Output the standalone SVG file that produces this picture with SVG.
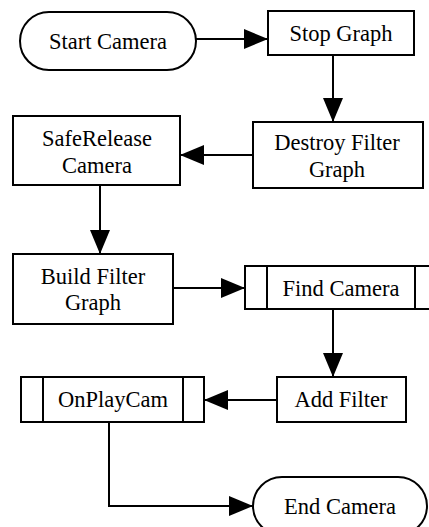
<svg xmlns="http://www.w3.org/2000/svg" width="429" height="527" viewBox="0 0 429 527">
<defs>
<style>
.box{fill:#fff;stroke:#000;stroke-width:2}
.ln{fill:none;stroke:#000;stroke-width:2}
.t{font-size:22.5px;fill:#000;text-anchor:middle}
</style>
<marker id="ah" markerUnits="userSpaceOnUse" markerWidth="24" markerHeight="20" refX="24" refY="10" orient="auto">
<path d="M0,0 L24,10 L0,20 Z" fill="#000"/>
</marker>
</defs>
<rect width="429" height="527" fill="#fff"/>
<g id="connectors">
<line class="ln" x1="196" y1="39" x2="268" y2="39" marker-end="url(#ah)"/>
<line class="ln" x1="333" y1="55" x2="333" y2="122" marker-end="url(#ah)"/>
<line class="ln" x1="253" y1="155" x2="180" y2="155" marker-end="url(#ah)"/>
<line class="ln" x1="100" y1="185" x2="100" y2="254" marker-end="url(#ah)"/>
<line class="ln" x1="173" y1="288" x2="245" y2="288" marker-end="url(#ah)"/>
<line class="ln" x1="333" y1="309" x2="333" y2="377" marker-end="url(#ah)"/>
<line class="ln" x1="277" y1="400" x2="204" y2="400" marker-end="url(#ah)"/>
<path class="ln" d="M109,422 V506 H253" marker-end="url(#ah)"/>
</g>
<g font-family="Liberation Serif, Times New Roman, DejaVu Serif, serif">
<g id="start">
<rect class="box" x="20" y="12" width="176" height="58" rx="29"/>
<text class="t" x="108" y="49">Start Camera</text>
</g>
<g id="stop">
<rect class="box" x="268" y="11" width="146" height="44"/>
<text class="t" x="341" y="41">Stop Graph</text>
</g>
<g id="destroy">
<rect class="box" x="253" y="122" width="170" height="66"/>
<text class="t" x="337" y="150">Destroy Filter</text>
<text class="t" x="337" y="177">Graph</text>
</g>
<g id="saferelease">
<rect class="box" x="13" y="116" width="167" height="69"/>
<text class="t" x="97" y="146">SafeRelease</text>
<text class="t" x="97" y="173">Camera</text>
</g>
<g id="build">
<rect class="box" x="13" y="254" width="160" height="70"/>
<text class="t" x="93" y="284">Build Filter</text>
<text class="t" x="93" y="310">Graph</text>
</g>
<g id="find">
<rect class="box" x="245" y="266" width="200" height="43"/>
<line class="ln" x1="267" y1="266" x2="267" y2="309"/>
<line class="ln" x1="415" y1="266" x2="415" y2="309"/>
<text class="t" x="341" y="296">Find Camera</text>
</g>
<g id="addfilter">
<rect class="box" x="277" y="377" width="129" height="45"/>
<text class="t" x="341" y="407">Add Filter</text>
</g>
<g id="onplaycam">
<rect class="box" x="21" y="377" width="183" height="45"/>
<line class="ln" x1="43" y1="377" x2="43" y2="422"/>
<line class="ln" x1="183" y1="377" x2="183" y2="422"/>
<text class="t" x="113" y="407">OnPlayCam</text>
</g>
<g id="end">
<rect class="box" x="253" y="477" width="174" height="58" rx="29"/>
<text class="t" x="340" y="514">End Camera</text>
</g>
</g>
</svg>
